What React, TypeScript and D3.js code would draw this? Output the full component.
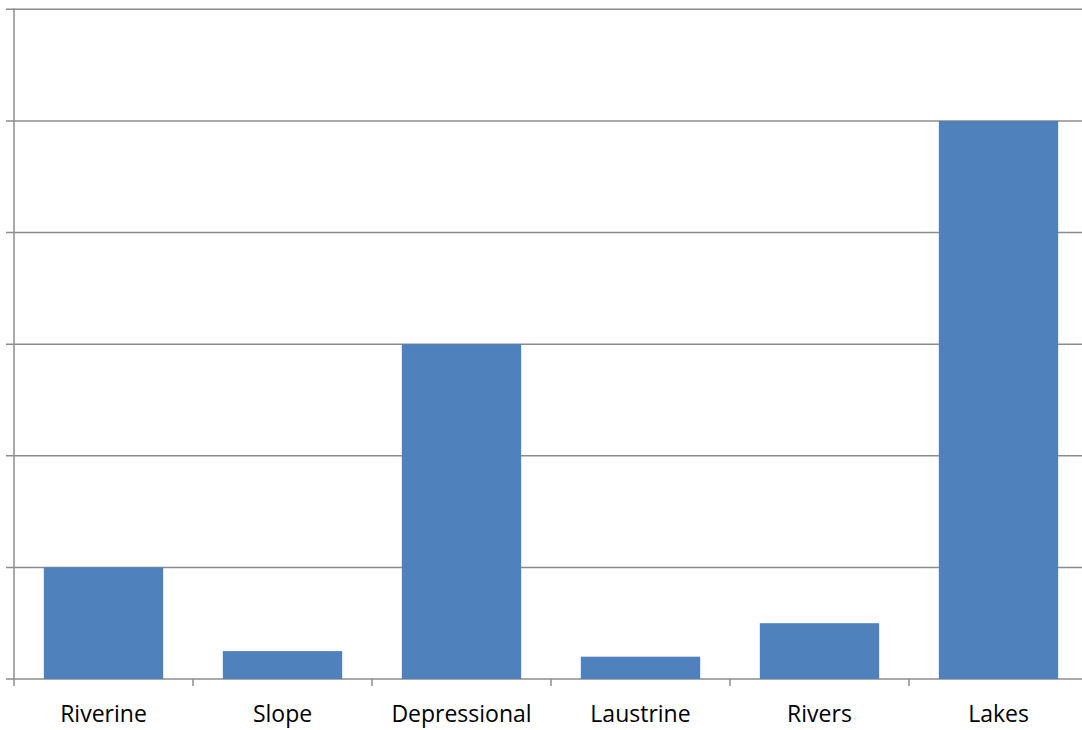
import React from "react";
import * as d3 from "d3";

const categories = ["Riverine", "Slope", "Depressional", "Laustrine", "Rivers", "Lakes"];
const values = [1, 0.25, 3, 0.2, 0.5, 5];
const yTicks = [0, 1, 2, 3, 4, 5, 6];

export default function App() {
  const W = 1082, H = 730;
  const left = 14, right = 1088, top = 9.3, bottom = 679;
  const x = d3.scaleBand<string>().domain(categories).range([left, right]).paddingInner(1 / 3).paddingOuter(1 / 6);
  const xOuter = d3.scaleBand<string>().domain(categories).range([left, right]);
  const y = d3.scaleLinear().domain([0, 6]).range([bottom, top]);
  const grid = "#8c8c8c";
  return (
    <svg width={W} height={H} style={{ position: "absolute", left: 0, top: 0, background: "#fff" }}>
      {yTicks.map((t) => (
        <line key={t} x1={6} x2={W} y1={y(t)} y2={y(t)} stroke={grid} strokeWidth={1.5} />
      ))}
      {categories.map((c, i) => (
        <rect key={c} x={x(c)} y={y(values[i])} width={x.bandwidth()} height={y(0) - y(values[i])} fill="#4F81BD" />
      ))}
      <line x1={left} x2={left} y1={top - 0.7} y2={686} stroke={grid} strokeWidth={1.5} />
      {categories.map((c) => (
        <line key={"t" + c} x1={(xOuter(c) as number) + xOuter.bandwidth()} x2={(xOuter(c) as number) + xOuter.bandwidth()} y1={bottom} y2={686} stroke={grid} strokeWidth={1.5} />
      ))}
      {categories.map((c) => (
        <text key={"l" + c} x={(x(c) as number) + x.bandwidth() / 2} y={722} textAnchor="middle" fontFamily="'Open Sans', sans-serif" fontSize={23} fill="#000">
          {c}
        </text>
      ))}
    </svg>
  );
}
